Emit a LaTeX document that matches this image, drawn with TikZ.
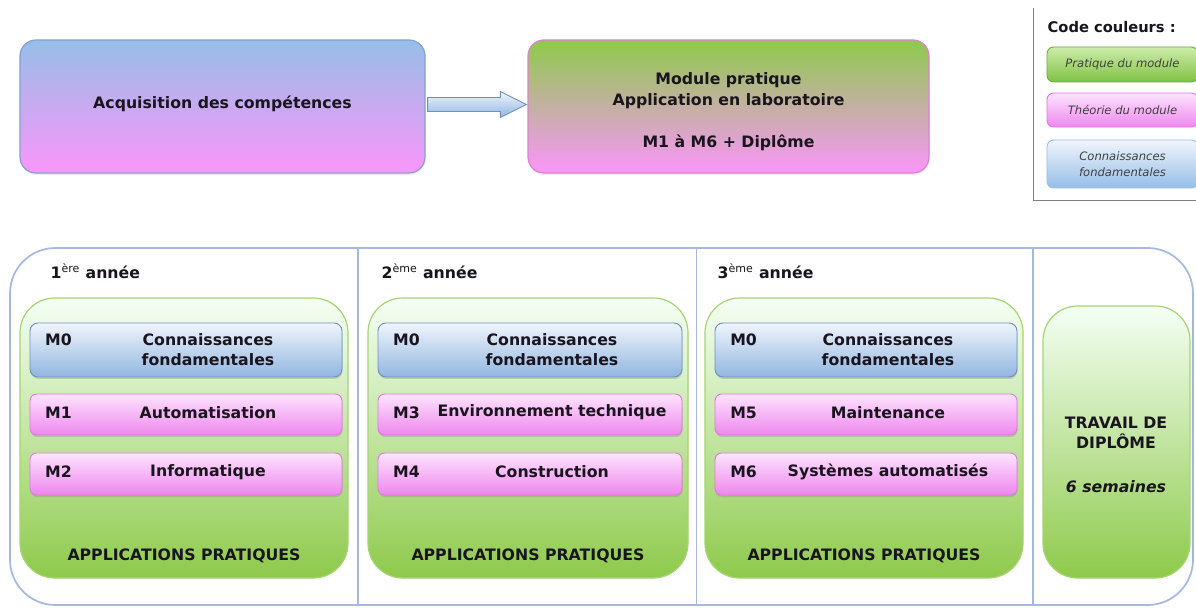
\documentclass[tikz,border=0pt]{standalone}
\usepackage{fontspec}
\setmainfont{DejaVu Sans}
\usetikzlibrary{calc,fit,shadows}
\definecolor{Ink}{RGB}{25,20,30}
\definecolor{Blue}{RGB}{150,190,232}
\definecolor{Pink}{RGB}{250,150,250}
\definecolor{Green}{RGB}{142,202,75}
\definecolor{AcqLine}{RGB}{135,160,205}
\definecolor{ModLine}{RGB}{222,130,205}
\definecolor{Frame}{RGB}{165,185,220}
\definecolor{PanelLine}{RGB}{165,212,115}
\definecolor{PinkTop}{RGB}{253,228,253}
\definecolor{PinkBot}{RGB}{238,135,238}
\definecolor{PinkLine}{RGB}{225,120,225}
\definecolor{BlueTop}{RGB}{240,245,252}
\definecolor{BlueBot}{RGB}{145,182,224}
\definecolor{BlueLine}{RGB}{110,145,192}
\definecolor{GreenTop}{RGB}{205,236,170}
\definecolor{GreenBot}{RGB}{128,194,68}
\definecolor{GreenLine}{RGB}{110,172,60}

\tikzset{
    topbox/.style={inner sep=0, rounded corners=12pt, draw=#1, line width=0.9pt,
        drop shadow={opacity=0.15, shadow xshift=0.5pt, shadow yshift=-1.5pt}},
    panel/.style={inner sep=0, rounded corners=26pt, draw=PanelLine, line width=0.9pt,
        top color=green!4!white, bottom color=Green},
    theory/.style={inner sep=0, rounded corners=5pt, draw=PinkLine, line width=0.7pt,
        top color=PinkTop, bottom color=PinkBot,
        drop shadow={opacity=0.3, shadow xshift=0.4pt, shadow yshift=-1.5pt}},
    basics/.style={inner sep=0, rounded corners=6pt, draw=BlueLine, line width=0.7pt,
        top color=BlueTop, bottom color=BlueBot,
        drop shadow={opacity=0.3, shadow xshift=0.4pt, shadow yshift=-1.5pt}},
    legendbox/.style={inner sep=0, rounded corners=5pt, line width=0.7pt},
    legendtext/.style={align=center, font=\fontsize{8.7}{12}\selectfont\mdseries\itshape, text=black!75},
    code/.style={anchor=west},
}

\begin{document}
\begin{tikzpicture}[x=0.75pt, y=-0.75pt, font=\fontsize{11.8}{15}\selectfont\bfseries, text=Ink]
    %% Canvas
    \useasboundingbox (0,0) rectangle (1196,609);
    \fill[white] (0,0) rectangle (1196,609);

    %% Top row
    \node[topbox=AcqLine, top color=Blue, bottom color=Pink, fit={(20,40) (425,173)}] (acq) {};
    \node (acqtext) at ($(acq.center)+(0,-3)$) {Acquisition des compétences};
    \node[topbox=ModLine, top color=Green, bottom color=Pink, fit={(528,40) (929,173)}] (mod) {};
    \node[align=center, font=\fontsize{11.8}{15.8}\selectfont\bfseries] (modtext) at ($(mod.center)+(0,5)$)
        {Module pratique\\Application en laboratoire\\[15.8pt]M1 à M6 + Diplôme};

    \draw[draw=BlueLine, line width=0.7pt, top color=BlueTop, bottom color=BlueBot]
    ($(acq.east)+(2,-9)$) -- ($(mod.west)+(-27,-9)$) -- ($(mod.west)+(-27,-15)$)
    -- ($(mod.west)+(-1,-2)$)
    -- ($(mod.west)+(-27,11)$) -- ($(mod.west)+(-27,5)$) -- ($(acq.east)+(2,5)$) -- cycle;

    %% Legend
    \node[inner sep=0, fit={(1034,8) (1200,200)}] (legend) {};
    \draw[black!50, line width=0.9pt] (legend.north west) -- (legend.south west) -- (legend.south east);
    \node[anchor=west, font=\fontsize{11}{13}\selectfont\bfseries] (legtitle) at (1043,27) {Code couleurs :};
    \node[legendbox, draw=GreenLine, top color=GreenTop, bottom color=GreenBot,
        fit={(1047,47) (1198,82)}] (legprat) {};
    \node[legendtext] (legpratext) at (legprat.center) {Pratique du module};
    \node[legendbox, draw=PinkLine, top color=PinkTop, bottom color=PinkBot,
        fit={(1047,93) (1198,127)}] (legtheo) {};
    \node[legendtext] (legtheotext) at (legtheo.center) {Théorie du module};
    \node[legendbox, draw=Blue, top color=BlueTop, bottom color=Blue,
        fit={(1047,140) (1198,188)}] (legbase) {};
    \node[legendtext] (legbasetext) at (legbase.center) {Connaissances\\fondamentales};

    %% Years
    \node[inner sep=0, draw=Frame, line width=1.3pt, rounded corners=34pt,
        fit={(10,248) (1193,605)}] (frame) {};

    \foreach \p/\xl/\xr/\xy/\yr/\ma/\ta/\mb/\tb in {
        1/20/348/50/{1\textsuperscript{\mdseries ère}}/M1/Automatisation/M2/Informatique,
        2/368/688/381/{2\textsuperscript{\mdseries ème}}/M3/Environnement technique/M4/Construction,
        3/705/1023/717/{3\textsuperscript{\mdseries ème}}/M5/Maintenance/M6/Systèmes automatisés}
    {
        \node[panel, fit={(\xl,298) (\xr,578)}] (panel\p) {};
        \node[code] (year\p) at (\xy-4,271) {\yr{} année};

        \node[basics, fit={(\xl+10,323) (\xr-6,377)}] (mzero\p) {};
        \node[code] (mzerocode\p) at ($(mzero\p.west)+(11,-10)$) {M0};
        \node[align=center] (mzerotext\p) at ($(mzero\p.center)+(22,0)$) {Connaissances\\fondamentales};

        \node[theory, fit={(\xl+10,394) (\xr-6,435)}] (ma\p) {};
        \node[code] (macode\p) at ($(ma\p.west)+(11,-2)$) {\ma};
        \node (matext\p) at ($(ma\p.center)+(22,-2)$) {\ta};

        \node[theory, fit={(\xl+10,453) (\xr-6,495)}] (mb\p) {};
        \node[code] (mbcode\p) at ($(mb\p.west)+(11,-2)$) {\mb};
        \node (mbtext\p) at ($(mb\p.center)+(22,-2)$) {\tb};

        \node (appli\p) at ($(panel\p.south)+(0,-23)$) {APPLICATIONS PRATIQUES};
    }

    %% Diploma
    \node[panel, fit={(1043,306) (1190,578)}] (travail) {};
    \node[align=center] (travailtext) at (1116,433) {TRAVAIL DE\\DIPLÔME};
    \node (semaines) at (1116,487) {\itshape 6 semaines};

    %% Dividers
    \coordinate (d1) at ($(panel1.east)!0.5!(panel2.west)$);
    \coordinate (d2) at ($(panel2.east)!0.5!(panel3.west)$);
    \coordinate (d3) at ($(panel3.east)!0.5!(travail.west)$);
    \draw[Frame, line width=0.9pt]
    (d1 |- frame.north) -- (d1 |- frame.south)
    (d2 |- frame.north) -- (d2 |- frame.south)
    (d3 |- frame.north) -- (d3 |- frame.south)
    ;
\end{tikzpicture}
\end{document}
